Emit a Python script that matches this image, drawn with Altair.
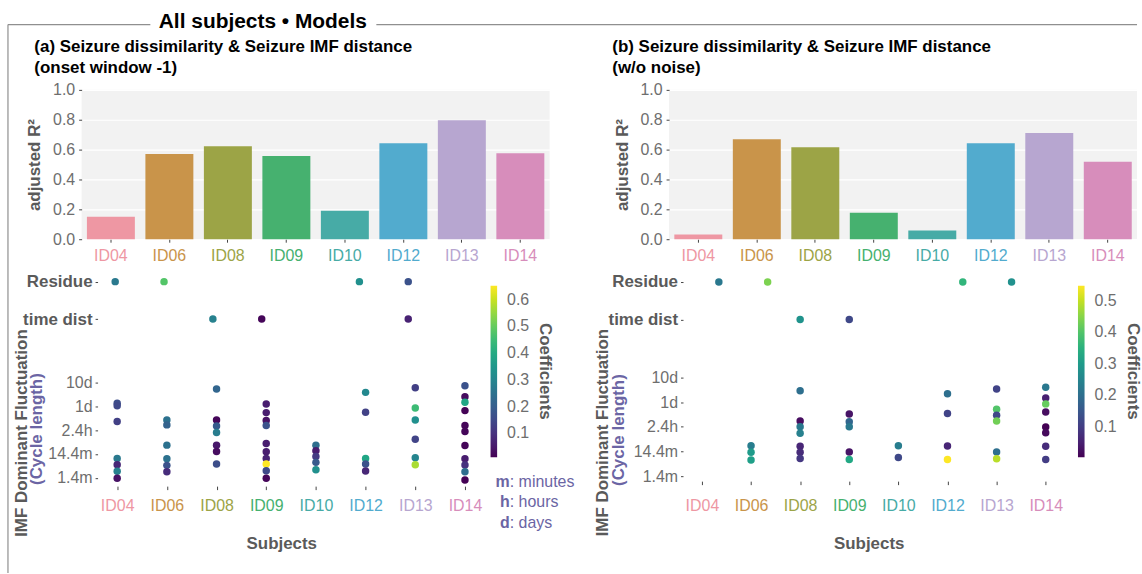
import altair as alt
import pandas as pd

FONT = "Liberation Sans"
TICK_GREY = "#6e6e6e"
TITLE_GREY = "#5a5a5a"
TICK_COLOR = "#444444"
UNIT_PURPLE = "#6b65a4"
FRAME_GREY = "#8f8f8f"

# ---------------------------------------------------------------- data
subjects = ["ID04", "ID06", "ID08", "ID09", "ID10", "ID12", "ID13", "ID14"]
subject_colors = ["#EE97A3", "#C9944A", "#9CA446", "#46B16F",
                  "#47ABA6", "#52ABCE", "#B7A6D0", "#D78DBB"]

# adjusted R² of each subject's model
r2_onset = [0.151, 0.570, 0.623, 0.557, 0.191, 0.643, 0.796, 0.576]
r2_nonoise = [0.031, 0.670, 0.616, 0.177, 0.058, 0.643, 0.711, 0.518]
r2_ticks = [0.0, 0.2, 0.4, 0.6, 0.8, 1.0]

# cycle-length axis: log10 of the period in days
cycle_ticks = [-3, -2, -1, 0, 1]
cycle_labels = ["1.4m", "14.4m", "2.4h", "1d", "10d"]

# (a) onset window -1 : IMF dominant fluctuations
a_imf_subject = (["ID04"] * 7 + ["ID06"] * 6 + ["ID08"] * 7 + ["ID09"] * 10
                 + ["ID10"] * 5 + ["ID12"] * 5 + ["ID13"] * 6 + ["ID14"] * 11)
a_imf_log10days = [
    0.114, 0.017, -0.647, -2.183, -2.446, -2.723, -3.014,
    -0.578, -0.785, -1.63, -2.197, -2.474, -2.737,
    0.709, -0.578, -0.827, -1.104, -1.63, -1.893, -2.419,
    0.087, -0.273, -0.606, -0.813, -1.56, -1.907, -2.183, -2.419, -2.696, -3.014,
    -1.63, -1.865, -2.10, -2.349, -2.654,
    0.571, -0.259, -2.183, -2.419, -2.709,
    0.765, -0.080, -0.578, -1.381, -2.156, -2.446,
    0.848, 0.391, 0.156, -0.190, -0.813, -1.062, -1.644, -2.197, -2.46, -2.737, -3.083,
]
a_imf_coef = [
    0.16, 0.15, 0.13, 0.27, 0.08, 0.29, 0.04,
    0.25, 0.21, 0.25, 0.25, 0.17, 0.09,
    0.22, 0.02, 0.19, 0.28, 0.05, 0.03, 0.16,
    0.06, 0.06, 0.04, 0.17, 0.06, 0.06, 0.07, 0.652, 0.15, 0.02,
    0.24, 0.06, 0.12, 0.19, 0.33,
    0.31, 0.135, 0.39, 0.17, 0.08,
    0.13, 0.45, 0.33, 0.14, 0.30, 0.57,
    0.17, 0.03, 0.39, 0.015, 0.02, 0.02, 0.02, 0.06, 0.10, 0.24, 0.011,
]
a_residue_subject = ["ID04", "ID06", "ID12", "ID13"]
a_residue_coef = [0.27, 0.48, 0.33, 0.17]
a_timedist_subject = ["ID08", "ID09", "ID13"]
a_timedist_coef = [0.29, 0.02, 0.07]

# (b) w/o noise : IMF dominant fluctuations
b_imf_subject = (["ID06"] * 3 + ["ID08"] * 7 + ["ID09"] * 5 + ["ID10"] * 2
                 + ["ID12"] * 4 + ["ID13"] * 6 + ["ID14"] * 8)
b_imf_log10days = [
    -1.77, -2.03, -2.34,
    0.46, -0.76, -1.00, -1.26, -1.79, -2.03, -2.28,
    -0.48, -0.79, -1.00, -2.02, -2.32,
    -1.77, -2.24,
    0.34, -0.46, -1.78, -2.32,
    0.53, -0.29, -0.53, -0.76, -2.02, -2.29,
    0.60, 0.17, -0.07, -0.40, -1.01, -1.24, -1.79, -2.32,
]
b_imf_coef = [
    0.23, 0.30, 0.31,
    0.20, 0.02, 0.22, 0.24, 0.06, 0.07, 0.09,
    0.03, 0.18, 0.22, 0.03, 0.33,
    0.23, 0.12,
    0.20, 0.11, 0.06, 0.547,
    0.11, 0.40, 0.12, 0.43, 0.20, 0.49,
    0.22, 0.05, 0.42, 0.02, 0.0035, 0.015, 0.07, 0.10,
]
b_residue_subject = ["ID04", "ID06", "ID12", "ID13"]
b_residue_coef = [0.22, 0.44, 0.36, 0.275]
b_timedist_subject = ["ID08", "ID09"]
b_timedist_coef = [0.28, 0.12]

# ---------------------------------------------------------------- layout
BAR_W, BAR_H = 470, 150
SC_W = 402
ONE = pd.DataFrame({"k": [0]})

subj_js = "[" + ",".join(f"'{s}'" for s in subjects) + "]"
col_js = "[" + ",".join(f"'{c}'" for c in subject_colors) + "]"
SUBJECT_LABEL_COLOR = alt.ExprRef(expr=f"{col_js}[indexof({subj_js}, datum.value)]")

tick_js = "[" + ",".join(str(v) for v in cycle_ticks) + "]"
lab_js = "[" + ",".join(f"'{s}'" for s in cycle_labels) + "]"
Y_LABEL_EXPR = (f"datum.value > 4 ? 'Residue\u00a0' : datum.value > 2 ? 'time dist\u00a0' : "
                f"{lab_js}[indexof({tick_js}, round(datum.value))]")


def text_at(x, y, text, **kw):
    return alt.Chart(ONE).mark_text(text=text, font=FONT, **kw).encode(
        x=alt.value(x), y=alt.value(y))


def bar_panel(values, title_lines, title_dx):
    df = pd.DataFrame({"Subject": subjects, "R2": values})
    bars = alt.Chart(df).mark_bar().encode(
        x=alt.X("Subject:N", title=None,
                scale=alt.Scale(domain=subjects, paddingInner=0.18, paddingOuter=0.09),
                axis=alt.Axis(labelAngle=0, labelFontSize=16, labelColor=SUBJECT_LABEL_COLOR,
                              tickSize=3, tickColor=TICK_COLOR, labelPadding=5.2,
                              domain=False)),
        y=alt.Y("R2:Q", title="adjusted R²",
                scale=alt.Scale(domain=[0, 1], nice=False),
                axis=alt.Axis(values=r2_ticks, format=".1f", domain=False, tickSize=3,
                              tickColor=TICK_COLOR, labelPadding=4, labelFontSize=16,
                              labelColor=TICK_GREY, gridColor="white", gridWidth=1.2,
                              titleFontSize=17, titleFontWeight="bold", titleColor=TITLE_GREY,
                              titleX=-47, titleY=BAR_H / 2, titleAngle=270,
                              titleAlign="center", titleBaseline="middle")),
        color=alt.Color("Subject:N", scale=alt.Scale(domain=subjects, range=subject_colors),
                        legend=None),
    )
    return bars.properties(
        width=BAR_W, height=BAR_H,
        view=alt.ViewBackground(fill="#F2F2F2", stroke=None),
        title=alt.TitleParams(text=title_lines, anchor="start", frame="group", dx=title_dx,
                              offset=5, fontSize=17, fontWeight="bold", color="black",
                              lineHeight=21, font=FONT),
    )


def scatter_panel(imf, residue, timedist, y_domain, height, x_range, res_range, td_range,
                  axis_offset, x_label_pad, subjects_title_y, legend_values, extra):
    coef_all = list(imf["coef"]) + list(residue["coef"]) + list(timedist["coef"])
    color = alt.Color(
        "coef:Q",
        scale=alt.Scale(scheme="viridis", domain=[min(coef_all), max(coef_all)]),
        legend=alt.Legend(title="Coefficients", orient="none", legendX=410.7, legendY=10.7,
                          direction="vertical", gradientLength=172.3, gradientThickness=6.6,
                          gradientStrokeWidth=0, values=legend_values, labelFontSize=16,
                          labelColor=TICK_GREY, labelOffset=10, labelOverlap=False,
                          titleOrient="right", titleFontSize=17, titleFontWeight="bold",
                          titleColor=TITLE_GREY, titlePadding=7, titleAnchor="middle",
                          padding=0))

    y_axis = alt.Axis(values=cycle_ticks + [residue["pos"].iloc[0], timedist["pos"].iloc[0]],
                      labelExpr=Y_LABEL_EXPR, offset=axis_offset, domain=False, grid=False,
                      tickSize=2.5, tickColor=TICK_COLOR, labelPadding=3,
                      labelFontSize=alt.ExprRef(expr="datum.value > 2 ? 17 : 16"),
                      labelFontWeight=alt.ExprRef(expr="datum.value > 2 ? 'bold' : 'normal'"),
                      labelColor=alt.ExprRef(
                          expr=f"datum.value > 2 ? '{TITLE_GREY}' : '{TICK_GREY}'"),
                      labelOverlap=False, labelBound=False)

    def y_enc(field):
        return alt.Y(f"{field}:Q", title=None,
                     scale=alt.Scale(domain=y_domain, nice=False, zero=False), axis=y_axis)

    def x_hidden(rng):
        return alt.X("Subject:N", title=None,
                     scale=alt.Scale(type="point", domain=subjects, range=rng, padding=0),
                     axis=None)

    imf_layer = alt.Chart(imf).mark_circle(size=56, opacity=1).encode(
        x=alt.X("Subject:N", title="Subjects",
                scale=alt.Scale(type="point", domain=subjects, range=x_range, padding=0),
                axis=alt.Axis(labelAngle=0, labelFontSize=16, labelColor=SUBJECT_LABEL_COLOR,
                              tickSize=3.5, tickColor=TICK_COLOR, labelPadding=x_label_pad,
                              domain=False, titleFontSize=17, titleFontWeight="bold",
                              titleColor=TITLE_GREY, titleX=200.5, titleY=subjects_title_y,
                              titleBaseline="middle")),
        y=y_enc("logdays"),
        color=color,
    )
    td_layer = alt.Chart(timedist).mark_circle(size=56, opacity=1).encode(
        x=x_hidden(td_range), y=y_enc("pos"), color=color)
    res_layer = alt.Chart(residue).mark_circle(size=56, opacity=1).encode(
        x=x_hidden(res_range), y=y_enc("pos"), color=color)

    return alt.layer(*extra, imf_layer, td_layer, res_layer).resolve_scale(
        x="independent").properties(width=SC_W, height=height)


def axis_title_texts(x_main, x_sub, y_main, y_sub):
    return [
        text_at(x_main, y_main, "IMF Dominant Fluctuation", angle=270, fontSize=17,
                fontWeight="bold", color=TITLE_GREY, align="center", baseline="middle"),
        text_at(x_sub, y_sub, "(Cycle length)", angle=270, fontSize=17,
                fontWeight="bold", color=UNIT_PURPLE, align="center", baseline="middle"),
    ]


# ---------------------------------------------------------------- frame around the figure
# drawn from the origin of the lower-left panel (plot area at 82, 274.3 on the page)
FX, FY = 82, 274.3
frame = [
    # invisible box spanning the page, fixes the origin of everything else
    alt.Chart(ONE).mark_rect(opacity=0).encode(
        x=alt.value(-FX), x2=alt.value(1142 - FX), y=alt.value(-FY), y2=alt.value(573.5 - FY)),
    alt.Chart(ONE).mark_rule(color=FRAME_GREY, strokeWidth=1.2).encode(
        x=alt.value(8 - FX), y=alt.value(22.7 - FY), y2=alt.value(573.5 - FY)),
    alt.Chart(ONE).mark_rule(color=FRAME_GREY, strokeWidth=1.2).encode(
        x=alt.value(8 - FX), x2=alt.value(151 - FX), y=alt.value(22.7 - FY)),
    alt.Chart(ONE).mark_rule(color=FRAME_GREY, strokeWidth=1.2).encode(
        x=alt.value(378 - FX), x2=alt.value(1142 - FX), y=alt.value(22.7 - FY)),
    text_at(264 - FX, 26 - FY, "All subjects • Models", fontSize=21, fontWeight="bold",
            color="black", align="center", baseline="alphabetic"),
]

bar_a = bar_panel(r2_onset,
                  ["(a) Seizure dissimilarity & Seizure IMF distance", "(onset window -1)"],
                  -47.5)
bar_b = bar_panel(r2_nonoise,
                  ["(b) Seizure dissimilarity & Seizure IMF distance", "(w/o noise)"],
                  -57)

A_ROWS = {"Residue": 5.19, "time dist": 3.63}
B_ROWS = {"Residue": 4.87, "time dist": 3.35}

a_imf = pd.DataFrame({"Subject": a_imf_subject, "logdays": a_imf_log10days, "coef": a_imf_coef})
a_res = pd.DataFrame({"Subject": a_residue_subject, "coef": a_residue_coef,
                      "pos": A_ROWS["Residue"]})
a_td = pd.DataFrame({"Subject": a_timedist_subject, "coef": a_timedist_coef,
                     "pos": A_ROWS["time dist"]})

b_imf = pd.DataFrame({"Subject": b_imf_subject, "logdays": b_imf_log10days, "coef": b_imf_coef})
b_res = pd.DataFrame({"Subject": b_residue_subject, "coef": b_residue_coef,
                      "pos": B_ROWS["Residue"]})
b_td = pd.DataFrame({"Subject": b_timedist_subject, "coef": b_timedist_coef,
                     "pos": B_ROWS["time dist"]})

# unit key under the colour bar (first line centred 207.4 px below the plot top)
unit_texts = [
    text_at(430, 207.4, ["m", "h", "d"], fontSize=16, fontWeight="bold", color=UNIT_PURPLE,
            align="right", baseline="middle", lineHeight=20.8),
    text_at(430, 207.4, [": minutes", ": hours", ": days"], fontSize=16, color=UNIT_PURPLE,
            align="left", baseline="middle", lineHeight=20.8),
]

sc_a = scatter_panel(a_imf, a_res, a_td, [-3.34, 5.465], 212,
                     [35.7, 385.0], [33.7, 377.1], [33.7, 377.1],
                     -16, 8.2, 57.7, [0.1, 0.2, 0.3, 0.4, 0.5, 0.6],
                     frame + axis_title_texts(-60, -44.4, 158.7, 154.7) + unit_texts)
sc_b = scatter_panel(b_imf, b_res, b_td, [-3.2, 5.148], 207,
                     [33.0, 378.3], [50.0, 393.0], [33.0, 378.3],
                     -14, 13.2, 62.7, [0.1, 0.2, 0.3, 0.4, 0.5],
                     axis_title_texts(-66, -50, 158.2, 155.7))

chart = alt.concat(
    bar_a, bar_b, sc_a, sc_b,
    columns=2, spacing={"row": 36, "column": 120}, bounds="flush", align="each",
).resolve_scale(color="independent").properties(
    padding=0, background="white"
).configure(font=FONT).configure_view(stroke=None)

chart.save("out.html", embed_options={"renderer": "svg", "actions": False})
